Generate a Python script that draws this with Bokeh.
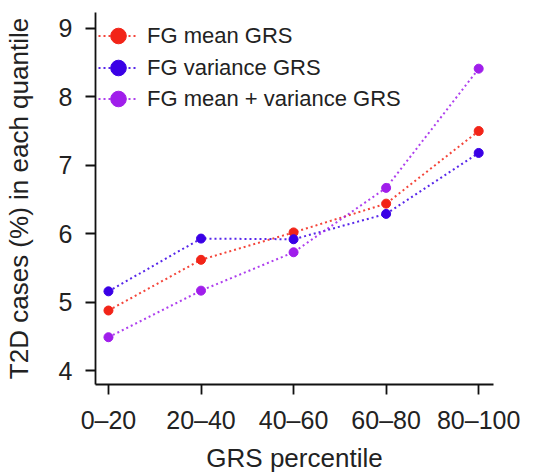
from bokeh.plotting import figure
from bokeh.models import ColumnDataSource, FixedTicker, Legend, LegendItem, Range1d
from bokeh.embed import file_html
from bokeh.resources import INLINE

categories = ["0–20", "20–40", "40–60", "60–80", "80–100"]
positions = [1, 2, 3, 4, 5]
mean_grs = [4.88, 5.62, 6.02, 6.44, 7.50]
variance_grs = [5.16, 5.93, 5.92, 6.29, 7.18]
mean_var_grs = [4.49, 5.17, 5.73, 6.67, 8.41]
y_ticks = [4, 5, 6, 7, 8, 9]

series = [
    ("FG mean GRS", mean_grs, "#F22418"),
    ("FG variance GRS", variance_grs, "#3A00E6"),
    ("FG mean + variance GRS", mean_var_grs, "#A01EEB"),
]

FONT = "Liberation Sans"

p = figure(width=536, height=475, output_backend="svg", toolbar_location=None,
           x_range=Range1d(0.86, 5.16), y_range=Range1d(3.8, 9.23),
           min_border_left=95, min_border_right=43, min_border_top=12, min_border_bottom=89)
p.outline_line_color = None
p.grid.visible = False
p.background_fill_color = "white"
p.border_fill_color = "white"

# one single-item legend per series, stacked from the top of the frame
legend_bottoms = [329, 297, 266]
for (label, vals, color), yb in zip(series, legend_bottoms):
    src = ColumnDataSource(dict(x=positions, y=vals))
    lr = p.line("x", "y", source=src, line_color=color, line_width=2, line_dash="2 3", line_alpha=0.85)
    sr = p.scatter("x", "y", source=src, size=9, fill_color=color, line_color=color)
    lg = Legend(items=[LegendItem(label=label, renderers=[lr, sr])], location=(3, yb),
                margin=0, padding=0, spacing=0,
                glyph_width=40, glyph_height=39, label_height=39, label_standoff=9,
                label_text_font=FONT, label_text_font_size="22px", label_text_color="#222222",
                border_line_alpha=0, background_fill_alpha=0)
    p.add_layout(lg)

for ax in (p.xaxis[0], p.yaxis[0]):
    ax.axis_line_width = 1.8
    ax.axis_line_color = "#111111"
    ax.major_tick_line_width = 1.8
    ax.major_tick_line_color = "#111111"
    ax.major_tick_out = 10
    ax.major_tick_in = 0
    ax.minor_tick_out = 0
    ax.minor_tick_in = 0
    ax.major_label_text_font = FONT
    ax.major_label_text_font_size = "25px"
    ax.major_label_text_color = "#222222"
    ax.axis_label_text_font = FONT
    ax.axis_label_text_font_size = "26px"
    ax.axis_label_text_font_style = "normal"
    ax.axis_label_text_color = "#222222"

p.xaxis.ticker = FixedTicker(ticks=positions)
p.xaxis.major_label_overrides = {pos: c for pos, c in zip(positions, categories)}
p.xaxis.major_label_standoff = 11
p.xaxis.axis_label = "GRS percentile"
p.xaxis.axis_label_standoff = 6

p.yaxis.ticker = FixedTicker(ticks=y_ticks)
p.yaxis.major_label_standoff = 13
p.yaxis.major_label_orientation = "horizontal"
p.yaxis.axis_label = "T2D cases (%) in each quantile"
p.yaxis.axis_label_standoff = 22

open("out.html", "w").write(file_html(p, INLINE))
